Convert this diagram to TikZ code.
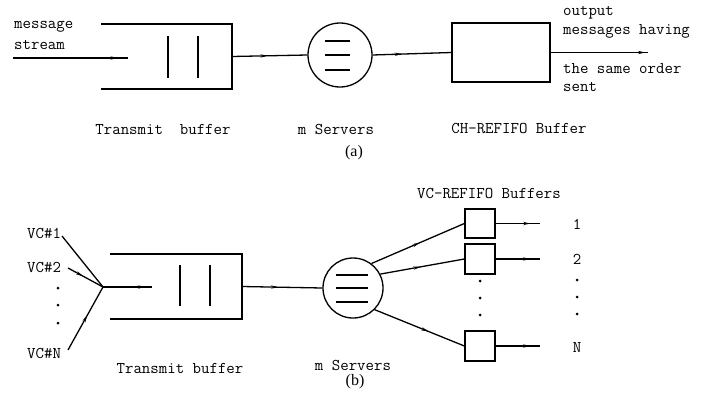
\documentclass[tikz,border=0pt]{standalone}
\usepackage{fontspec}
\newfontfamily\capfont{Liberation Serif}
\usetikzlibrary{arrows.meta,decorations.markings}
\tikzset{
  ln/.style={line width=1.3pt},
  lbl/.style={font=\ttfamily\fontsize{16.4pt}{17pt}\selectfont, inner sep=0pt},
  captxt/.style={font=\capfont\fontsize{16pt}{17pt}\selectfont, inner sep=0pt},
  midarrow/.style={postaction={decorate}, decoration={markings, mark=at position #1 with {\arrow{Stealth[length=7pt,width=3.2pt]}}}},
  hidden/.style={inner sep=0pt, outer sep=0pt},
  srv/.style={circle, draw, line width=1.3pt, inner sep=0pt},
  vbox/.style={rectangle, draw, line width=1.3pt, inner sep=0pt, minimum width=30pt, minimum height=29pt},
  dotm/.style={circle, fill, inner sep=0pt, minimum size=3pt}
}
\begin{document}
\begin{tikzpicture}[x=1pt,y=-1pt]
\useasboundingbox (0,0) rectangle (704,394);
% ---------------- (a) ----------------
\node[hidden, minimum width=131pt, minimum height=65pt] (tba) at (166.5,56.5) {};
\draw[ln] (tba.north west) -- (tba.north east) -- (tba.south east) -- (tba.south west);
\draw[ln] (168,36) -- (168,78);
\draw[ln] (198,36) -- (198,78);
\coordinate (ina) at (13,58);
\coordinate (inaEnd) at (128,58);
\draw[ln, midarrow=0.91] (ina) -- (inaEnd);
\node[lbl, anchor=west] (msg1) at (14,27) {message};
\node[lbl, anchor=west] (msg2) at (14,45) {stream};

\node[srv, minimum size=64pt] (sa) at (340,55) {};
\draw[ln] (325,41) -- (350,41);
\draw[ln] (325,55) -- (350,55);
\draw[ln] (325,70) -- (350,70);
\draw[ln, midarrow=0.47] (tba.east) -- (sa.west);

\node[rectangle, draw, line width=1.3pt, inner sep=0pt, minimum width=98pt, minimum height=59pt] (ch) at (501,52.5) {};
\draw[ln, midarrow=0.37] (sa.east) -- (ch.west);
\coordinate (outa) at (648,52.5);
\draw[ln, midarrow=0.97] (ch.east) -- (outa);
\node[lbl, anchor=west] (o1) at (563,13) {output};
\node[lbl, anchor=west] (o2) at (563,31) {messages having};
\node[lbl, anchor=west] (o3) at (563,69) {the same order};
\node[lbl, anchor=west] (o4) at (563,87) {sent};

\node[lbl] (la1) at (163,129) {Transmit\ \ buffer};
\node[lbl] (la2) at (336,129) {m Servers};
\node[lbl] (la3) at (519,128) {CH-REFIFO Buffer};
\node[captxt] (capa) at (354,153) {(a)};

% ---------------- (b) ----------------
\node[lbl, anchor=west] (vc1) at (27,233) {VC\#1};
\node[lbl, anchor=west] (vc2) at (27,267) {VC\#2};
\node[lbl, anchor=west] (vcn) at (27,353) {VC\#N};
\node[dotm] (vd1) at (58,288) {};
\node[dotm] (vd2) at (58,305) {};
\node[dotm] (vd3) at (58,323) {};
\coordinate (m) at (103,287);
\coordinate (vc1e) at (62,236);
\coordinate (vc2e) at (68,268);
\coordinate (vcne) at (68,350);
\draw[ln] (vc1e) -- (m);
\draw[ln, midarrow=0.43] (vc2e) -- (m);
\draw[ln, midarrow=0.55] (vcne) -- (m);
\coordinate (inbEnd) at (152,287);
\draw[ln, midarrow=0.86] (m) -- (inbEnd);

\node[hidden, minimum width=132pt, minimum height=65pt] (tbb) at (176,286.5) {};
\draw[ln] (tbb.north west) -- (tbb.north east) -- (tbb.south east) -- (tbb.south west);
\draw[ln] (180,265) -- (180,306);
\draw[ln] (210,265) -- (210,306);

\node[srv, minimum size=60pt] (sb) at (353,288) {};
\draw[ln] (336,275) -- (368,275);
\draw[ln] (336,288) -- (368,288);
\draw[ln] (336,302) -- (368,302);
\draw[ln, midarrow=0.45] (tbb.east) -- (sb.west);

\node[lbl] (vcr) at (489,193) {VC-REFIFO Buffers};
\node[vbox] (b1) at (480,223.5) {};
\node[vbox, minimum height=30pt] (b2) at (480,259) {};
\node[vbox, minimum height=30pt] (bn) at (480,346) {};
\node[dotm] (bd1) at (480,281) {};
\node[dotm] (bd2) at (480,298) {};
\node[dotm] (bd3) at (480,315) {};
\draw[ln, midarrow=0.52] (sb.53) -- (b1.west);
\draw[ln, midarrow=0.48] (sb.27) -- (b2.west);
\draw[ln, midarrow=0.6] (sb.-45) -- (bn.west);
\coordinate (o1e) at (540,223.5);
\coordinate (o2e) at (540,259);
\coordinate (one) at (540,346);
\draw[ln, midarrow=0.78] (b1.east) -- (o1e);
\draw[ln, midarrow=0.78] (b2.east) -- (o2e);
\draw[ln, midarrow=0.78] (bn.east) -- (one);
\node[lbl] (n1) at (577,224) {1};
\node[lbl] (n2) at (577,259) {2};
\node[lbl] (nn) at (577,347) {N};
\node[dotm] (rd1) at (577,280) {};
\node[dotm] (rd2) at (577,297) {};
\node[dotm] (rd3) at (577,314) {};

\node[lbl] (lb1) at (180,368) {Transmit buffer};
\node[lbl] (lb2) at (353,365) {m Servers};
\node[captxt] (capb) at (355,382) {(b)};
\end{tikzpicture}
\end{document}
